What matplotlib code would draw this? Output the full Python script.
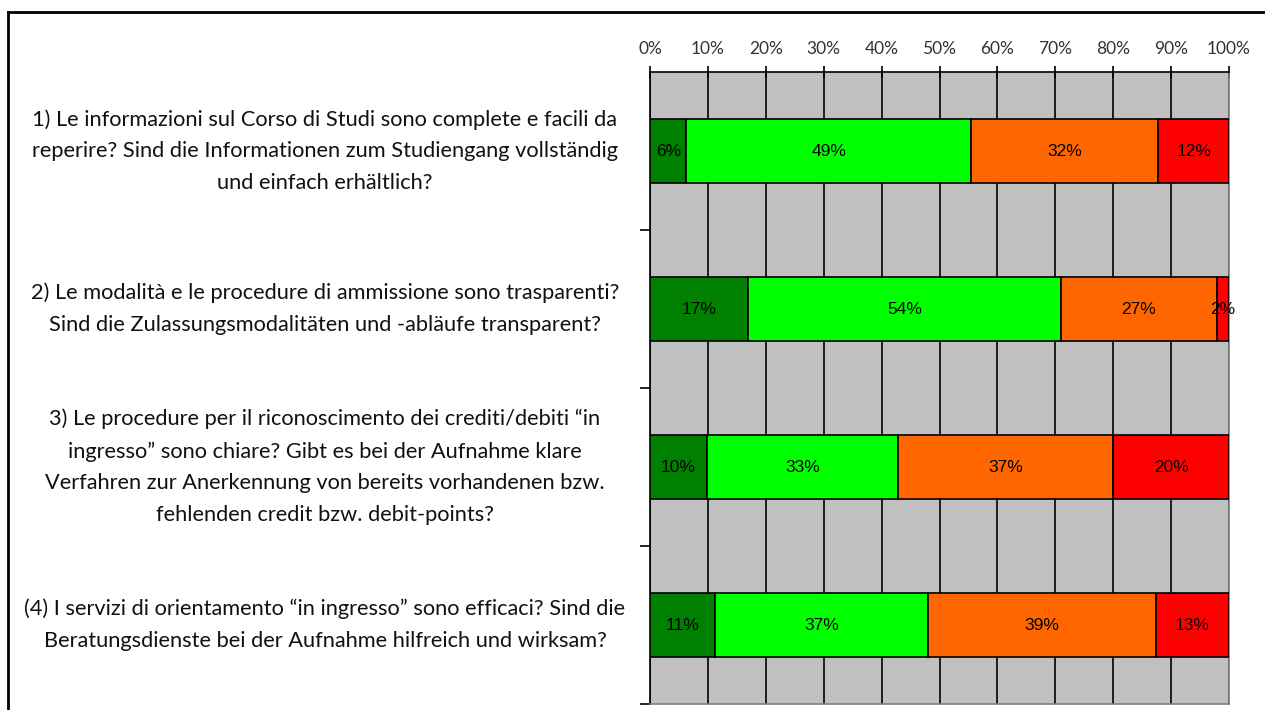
import numpy as np
import matplotlib.pyplot as plt
import matplotlib.transforms as mtransforms
from matplotlib.lines import Line2D

# Domande (italiano / tedesco)
questions = [
    "1) Le informazioni sul Corso di Studi sono complete e facili da\n"
    "reperire? Sind die Informationen zum Studiengang vollständig\n"
    "und einfach erhältlich?",
    "2) Le modalità e le procedure di ammissione sono trasparenti?\n"
    "Sind die Zulassungsmodalitäten und -abläufe transparent?",
    "3) Le procedure per il riconoscimento dei crediti/debiti “in\n"
    "ingresso” sono chiare? Gibt es bei der Aufnahme klare\n"
    "Verfahren zur Anerkennung von bereits vorhandenen bzw.\n"
    "fehlenden credit bzw. debit-points?",
    "(4) I servizi di orientamento “in ingresso” sono efficaci? Sind die\n"
    "Beratungsdienste bei der Aufnahme hilfreich und wirksam?",
]

# Quote in percentuale
decisamente_si = [6.3, 16.9, 9.8, 11.3]
piu_si_che_no = [49.1, 54.1, 33.1, 36.7]
piu_no_che_si = [32.4, 26.9, 37.1, 39.4]
decisamente_no = [12.2, 2.1, 20.0, 12.6]

series = [decisamente_si, piu_si_che_no, piu_no_che_si, decisamente_no]
colors = ['#008000', '#00FF00', '#FF6600', '#FF0000']
tick_pct = np.arange(0, 101, 10)

W, H = 1265, 710
fig = plt.figure(figsize=(W / 100, H / 100), dpi=100)
ax = fig.add_axes([650 / W, 1 - 704 / H, 579 / W, 632 / H])
ax.set_facecolor('#C0C0C0')

y = np.arange(len(questions))
left = np.zeros(len(questions))
for vals, col in zip(series, colors):
    vals = np.array(vals)
    ax.barh(y, vals, left=left, height=0.4, color=col,
            edgecolor='black', linewidth=1.2, zorder=3)
    for yi, l, v in zip(y, left, vals):
        ax.text(l + v / 2, yi, f"{v:.0f}%", ha='center', va='center',
                fontsize=12.5, color='black', zorder=4,
                family='Liberation Sans')
    left += vals

ax.set_xlim(0, 100)
ax.set_ylim(len(questions) - 0.5, -0.5)
ax.xaxis.tick_top()
ax.set_xticks(tick_pct)
ax.set_xticklabels([f"{t}%" for t in tick_pct], family='Lato',
                   fontsize=12.5, color='#333333')
ax.tick_params(axis='x', direction='inout', length=8, width=1.2,
               color='black', pad=7)
ax.grid(axis='x', color='black', linewidth=1.2, zorder=1)

ax.set_yticks(y)
ax.set_yticklabels([])
ax.tick_params(axis='y', length=0)
ax.set_yticks(np.arange(0.5, len(questions), 1.0), minor=True)
ax.tick_params(axis='y', which='minor', direction='out', length=7,
               width=1.2, color='black')

for s in ['top', 'left']:
    ax.spines[s].set_color('black')
    ax.spines[s].set_linewidth(1.2)
for s in ['right', 'bottom']:
    ax.spines[s].set_color('#808080')
    ax.spines[s].set_linewidth(1.2)

# Etichette delle domande centrate a sinistra del grafico
trans = mtransforms.blended_transform_factory(fig.transFigure, ax.transData)
for yi, q in zip(y, questions):
    ax.text(325 / W, yi, q, transform=trans, ha='center', va='center',
            multialignment='center', fontsize=15.7, family='Lato',
            color='#111111', linespacing=1.73, clip_on=False)

# Cornice del grafico
fig.add_artist(Line2D([8 / W, 8 / W], [0, 1 - 12 / H], color='black',
                      linewidth=2, transform=fig.transFigure))
fig.add_artist(Line2D([8 / W, 1], [1 - 12 / H, 1 - 12 / H], color='black',
                      linewidth=2, transform=fig.transFigure))

fig.savefig('out.png', dpi=100)
